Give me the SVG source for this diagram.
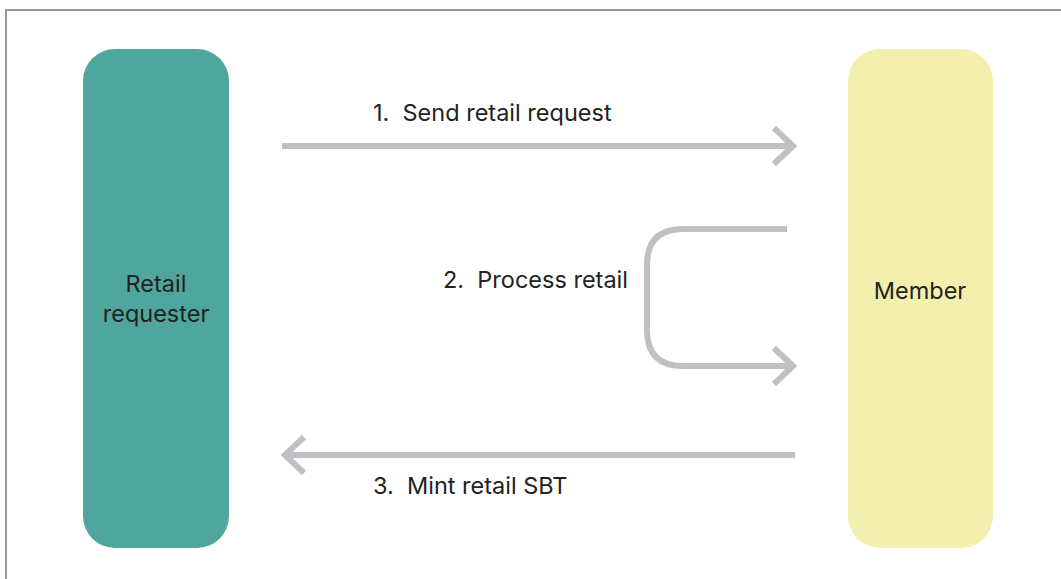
<svg xmlns="http://www.w3.org/2000/svg" width="1061" height="579" viewBox="0 0 1061 579">
<style>
.t{font-family:Inter,"Liberation Sans",sans-serif;font-size:23.5px;fill:#222;white-space:pre}
.c{fill:none;stroke:#BFC0C4;stroke-width:6;stroke-linecap:butt;stroke-linejoin:miter}
</style>
<rect x="0" y="0" width="1061" height="579" fill="#fff"/>
<rect x="6" y="10" width="1070" height="590" fill="none" stroke="#999" stroke-width="2"/>
<g id="requester">
<rect x="83" y="49" width="146" height="499" rx="32" fill="#4FA69D"/>
<text class="t" x="156" y="292" text-anchor="middle">Retail</text>
<text class="t" x="156" y="322" text-anchor="middle">requester</text>
</g>
<g id="member">
<rect x="848" y="49" width="145" height="499" rx="32" fill="#F3EFAE"/>
<text class="t" x="920" y="299" text-anchor="middle">Member</text>
</g>
<g id="connectors">
<path class="c" d="M282 146H793"/>
<path class="c" d="M774 128L793 146L774 164"/>
<text class="t" x="373" y="121" xml:space="preserve">1.  Send retail request</text>
<path class="c" d="M787 229H683Q647 229 647 265V330Q647 366 683 366H793"/>
<path class="c" d="M774 348L793 366L774 384"/>
<text class="t" x="443" y="288" xml:space="preserve">2.  Process retail</text>
<path class="c" d="M795 455H285"/>
<path class="c" d="M304 437L285 455L304 473"/>
<text class="t" x="373" y="494" xml:space="preserve">3.  Mint retail SBT</text>
</g>
</svg>
